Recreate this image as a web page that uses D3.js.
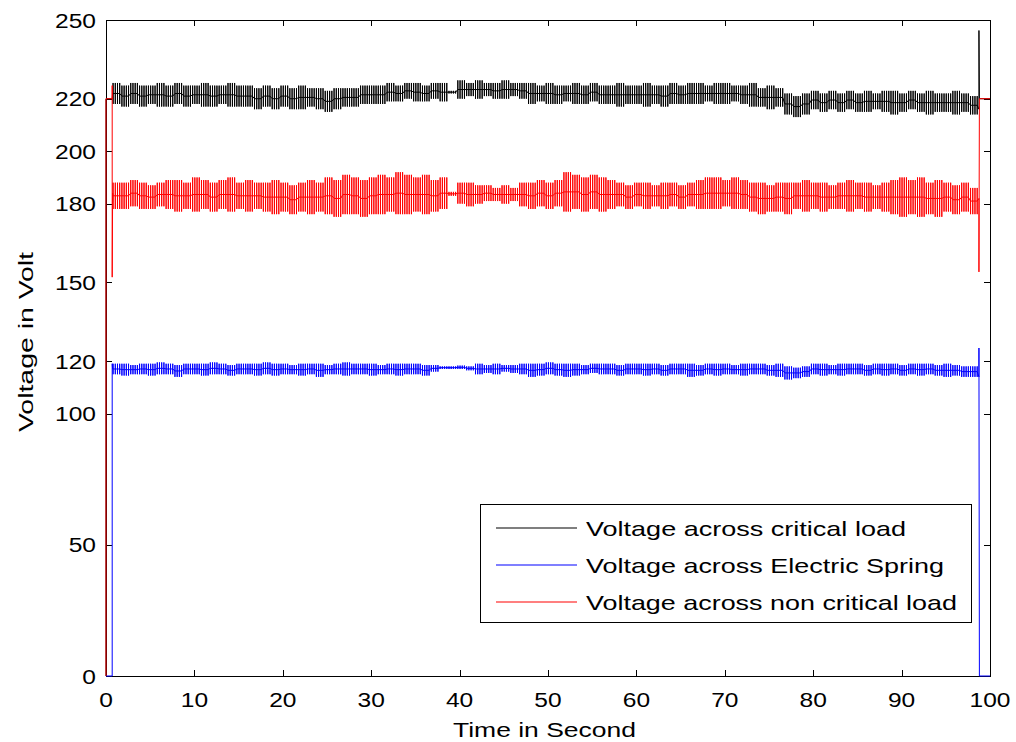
<!DOCTYPE html>
<html>
<head>
<meta charset="utf-8">
<script src="https://cdn.jsdelivr.net/npm/d3@7"></script>
<style>
body { margin: 0; background: #fff; }
text { font-family: "Liberation Sans", Arial, sans-serif; fill: #000; }
</style>
</head>
<body>
<svg id="chart" width="1016" height="742"></svg>
<script>
// envelope (max / min) of each signal, one value per 1 s bin, first bin starts at 0.8 s
var binStart = 0.8;
var strokesPerBin = 4;
var xTicks = [0, 10, 20, 30, 40, 50, 60, 70, 80, 90, 100];
var yTicks = [0, 50, 100, 120, 150, 180, 200, 220, 250];
var seriesNames = ['Voltage across critical load', 'Voltage across Electric Spring', 'Voltage across non critical load'];
var seriesColors = ['#000000', '#0000ff', '#ff0000'];

var criticalHi = [
	226,225,226,225,225,226,225,226,225,225,
	226,225,225,226,225,225,224,225,224,225,
	224,225,224,224,223,224,224,224,225,225,
	225,226,225,226,226,225,226,226,223,227,
	226,227,226,226,227,226,226,226,225,226,
	225,225,226,225,226,225,225,226,225,225,
	226,225,225,226,225,226,226,225,226,226,
	225,225,226,224,225,224,222,221,222,223,
	222,223,222,223,222,223,222,223,223,222,
	223,222,223,222,222,223,222,221];
var criticalLo = [
	218,217,218,217,218,217,217,218,217,218,
	217,217,218,217,217,217,216,217,216,217,
	216,216,217,216,215,216,217,217,218,218,
	218,219,219,220,219,219,220,219,222,220,
	221,220,221,220,220,221,220,218,219,218,
	218,219,218,218,219,218,218,217,218,218,
	217,218,217,218,218,218,218,219,218,218,
	219,218,217,217,216,217,214,213,214,216,
	215,216,215,216,215,215,216,215,214,215,
	216,215,214,215,215,214,215,214];

var springHi = [
	119,119,118.5,119,119,119.5,119,118.5,119,119,
	119,119.5,119,118.5,119,119,119,119.5,119,119,
	118.5,119,119,119,118.5,119,119.5,119,119,119,
	118.5,119,119,119,119,118.5,118.5,118,118,118.3,
	118,119,118.5,119,118.5,118.5,119,119,119,119.5,
	119,119,119,118.5,119,119,119,118.5,119,119,
	119,119,118.5,119,119,119,118.5,119,119,119,
	118.5,119,119,119,118.5,119,118,117.5,118,119,
	119,118.5,119,119,119,118.5,119,119,119,118.5,
	119,119,119,118.5,119,118.5,118,118];
var springLo = [
	115,114.5,115,115,114.5,115,115,114,115,115,
	114.5,115,115,114.5,115,115,114.5,115,114.5,115,
	115,114.5,115,114,115,115,114.5,115,115,114.5,
	115,115,114.5,115,115,114.5,116,117,117,117,
	116.5,115,115.5,115,116,115.5,115,114,114.5,115,
	114.5,114,114.5,115,115.5,115,115,114.5,115,115,
	114.5,115,114.5,115,115,114,114.5,115,114.5,115,
	115,114.5,115,115,114.5,114,113,113.5,114,115,
	114.5,115,114.5,115,115,114.5,115,114.5,115,114.5,
	115,114.5,115,114.5,114,114.5,114,114];

var noncriticalHi = [
	188,188,189,188,187,188,189,189,188,190,
	189,188,189,190,188,189,188,188,189,188,
	187,188,189,188,190,189,191,190,189,190,
	191,190,192,191,190,191,189,190,184.5,188,
	188,187,187,186,187,186,188,188,189,188,
	189,192,191,190,191,190,189,188,187,188,
	188,187,188,188,187,188,189,190,190,189,
	190,189,188,188,187,188,188,188,189,188,
	188,187,188,189,188,188,187,188,189,190,
	189,190,188,189,188,187,188,186];
var noncriticalLo = [
	178,178,179,178,178,179,178,177,178,177,
	178,177,178,177,178,177,178,177,176,177,
	176,177,176,177,176,175,176,176,175,176,
	176,177,176,176,177,176,177,178,183,180,
	179,180,181,181,180,181,179,178,179,178,
	179,177,178,177,178,177,178,179,178,179,
	178,179,178,179,178,179,178,178,178,179,
	178,178,177,176,177,177,176,178,177,178,
	177,178,178,177,178,177,178,177,176,175,
	176,175,176,175,177,176,177,176];

// switching transients before and after the oscillating part [time, volt]
var criticalStart = [[0, 0], [0, 220], [0.7, 220], [0.75, 222]];
var criticalEnd = [[98.75, 216], [98.75, 246], [98.8, 220], [100, 220]];
var springStart = [[0, 0], [0.7, 0], [0.7, 119], [0.75, 117]];
var springEnd = [[98.75, 114], [98.75, 125], [98.8, 0], [100, 0]];
var noncriticalStart = [[0, 0], [0, 220], [0.7, 220], [0.7, 225], [0.7, 152], [0.75, 184]];
var noncriticalEnd = [[98.75, 182], [98.75, 154], [98.8, 220], [100, 220]];

var svg = d3.select('#chart'),
	margin = { top: 20, right: 26, bottom: 66, left: 106 },
	width = +svg.attr('width') - margin.left - margin.right,
	height = +svg.attr('height') - margin.top - margin.bottom;

var x = d3.scaleLinear().domain([0, 100]).range([margin.left, margin.left + width]),
	y = d3.scaleLinear().domain([0, 250]).range([margin.top + height, margin.top]);

svg.append('rect').attr('width', 1016).attr('height', 742).attr('fill', '#fff');

// Build a signal: start transient, a few strokes per bin between max and min, end transient
function buildPoints(start, hi, lo, end) {
	var pts = start.slice();
	var n = Math.min(hi.length, lo.length);
	for (var i = 0; i < n; i++) {
		var mid = (hi[i] + lo[i]) / 2;
		for (var k = 0; k < strokesPerBin; k++) {
			var t = binStart + i + k / strokesPerBin;
			pts.push([t, mid], [t, hi[i]], [t, lo[i]], [t, mid]);
		}
	}
	return pts.concat(end);
}

var line = d3.line()
	.x(function(d) { return x(d[0]); })
	.y(function(d) { return y(d[1]); });

var series = [
	buildPoints(criticalStart, criticalHi, criticalLo, criticalEnd),
	buildPoints(springStart, springHi, springLo, springEnd),
	buildPoints(noncriticalStart, noncriticalHi, noncriticalLo, noncriticalEnd)
];

// frame
svg.append('rect')
	.attr('x', x(0) + 0.5).attr('y', y(250) + 0.5)
	.attr('width', x(100) - x(0)).attr('height', y(0) - y(250))
	.attr('fill', 'none').attr('stroke', '#000').attr('stroke-width', 1)
	.attr('shape-rendering', 'crispEdges');

// ticks on all four sides, pointing inward
var tickLen = 6;
var tickG = svg.append('g').attr('stroke', '#000').attr('stroke-width', 1).attr('shape-rendering', 'crispEdges');
xTicks.forEach(function(t) {
	var px = Math.round(x(t)) + 0.5;
	tickG.append('line').attr('x1', px).attr('x2', px).attr('y1', y(0)).attr('y2', y(0) - tickLen);
	tickG.append('line').attr('x1', px).attr('x2', px).attr('y1', y(250)).attr('y2', y(250) + tickLen);
});
yTicks.forEach(function(v) {
	var py = Math.round(y(v)) + 0.5;
	tickG.append('line').attr('x1', x(0)).attr('x2', x(0) + tickLen).attr('y1', py).attr('y2', py);
	tickG.append('line').attr('x1', x(100)).attr('x2', x(100) - tickLen).attr('y1', py).attr('y2', py);
});

// data
svg.append('g').selectAll('path')
	.data(series)
	.enter().append('path')
	.attr('d', line)
	.attr('fill', 'none')
	.attr('stroke', function(d, i) { return seriesColors[i]; })
	.attr('stroke-width', 1);

// tick labels (the reference font is drawn a bit wide)
var sx = 1.17;
xTicks.forEach(function(t) {
	svg.append('text')
		.attr('transform', 'translate(' + x(t) + ',707) scale(' + sx + ',1)')
		.attr('text-anchor', 'middle')
		.style('font-size', '21px')
		.text(t);
});
yTicks.forEach(function(v) {
	svg.append('text')
		.attr('transform', 'translate(96,' + (y(v) + 7.5) + ') scale(' + sx + ',1)')
		.attr('text-anchor', 'end')
		.style('font-size', '21px')
		.text(v);
});

// axis labels
svg.append('text')
	.attr('x', 453).attr('y', 737)
	.attr('textLength', 183).attr('lengthAdjust', 'spacingAndGlyphs')
	.style('font-size', '21px')
	.text('Time in Second');
svg.append('text')
	.attr('transform', 'translate(33,432) rotate(-90)')
	.attr('textLength', 180).attr('lengthAdjust', 'spacingAndGlyphs')
	.style('font-size', '21px')
	.text('Voltage in Volt');

// legend
var legend = svg.append('g');
legend.append('rect')
	.attr('x', 480.5).attr('y', 504.5).attr('width', 491).attr('height', 118)
	.attr('fill', '#fff').attr('stroke', '#000').attr('stroke-width', 1)
	.attr('shape-rendering', 'crispEdges');
var legendLengths = [320, 358, 371];
seriesNames.forEach(function(name, i) {
	var ry = 528 + i * 37;
	legend.append('line')
		.attr('x1', 496).attr('x2', 577).attr('y1', ry).attr('y2', ry)
		.style('stroke', seriesColors[i]).style('stroke-width', 1.2);
	legend.append('text')
		.attr('x', 586).attr('y', ry + 7.5)
		.attr('textLength', legendLengths[i]).attr('lengthAdjust', 'spacingAndGlyphs')
		.style('font-size', '21px')
		.text(name);
});
</script>
</body>
</html>
